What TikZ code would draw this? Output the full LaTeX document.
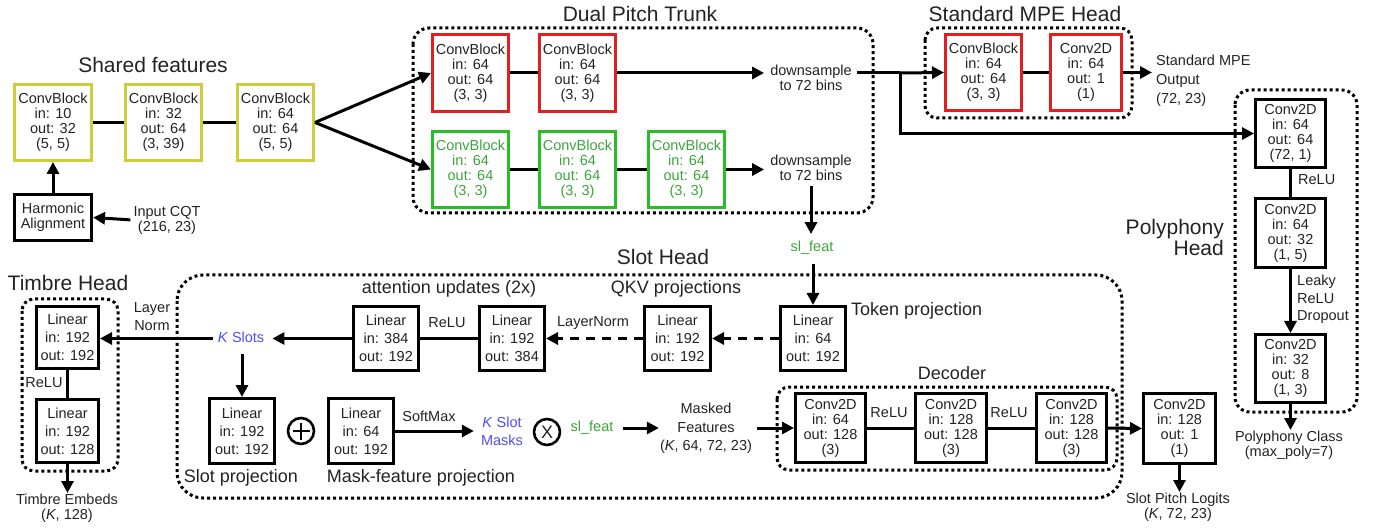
\documentclass[tikz,border=0pt]{standalone}
\usepackage{fontspec}
\setmainfont{Liberation Sans}
\usetikzlibrary{arrows.meta}
\definecolor{yel}{RGB}{206,206,60}
\definecolor{rd}{RGB}{228,30,30}
\definecolor{gr}{RGB}{40,190,40}
\definecolor{grt}{RGB}{60,165,60}
\definecolor{bl}{RGB}{80,80,235}
\definecolor{txt}{RGB}{35,35,35}
\newcommand{\fsA}{\fontsize{14.5}{15}\selectfont}
\newcommand{\fsB}{\fontsize{14.5}{18}\selectfont}
\newcommand{\fsM}{\fontsize{18}{20}\selectfont}
\newcommand{\fsT}{\fontsize{21}{21}\selectfont}
\tikzset{
  box/.style={draw=black, line width=3pt, align=center, inner sep=0pt, text=txt, font=\fsA},
  boxB/.style={box, font=\fsB},
  bx/.style 2 args={minimum width=#1pt, minimum height=#2pt},
  lbl/.style={inner sep=1pt, align=center, text=txt, font=\fsA},
  lblB/.style={lbl, font=\fsB},
  mid/.style={inner sep=1pt, align=center, text=txt, font=\fsM},
  ttl/.style={inner sep=1pt, align=center, text=txt, font=\fsT},
  ln/.style={line width=3pt},
  arr/.style={line width=3pt, -{Triangle[length=12pt,width=12pt]}},
  dsh/.style={arr, dash pattern=on 9pt off 7pt},
  dotbox/.style={line width=3pt, dash pattern=on 3pt off 3pt},
}
\begin{document}
\begin{tikzpicture}[x=1pt,y=-1pt]
\fill[white] (0,0) rectangle (1374,529);
\useasboundingbox (0,0) rectangle (1374,529);

% ---------- Shared features ----------
\node[ttl] (tshared) at (153,65) {Shared features};
\node[box, draw=yel, bx={77}{76}] (sf1) at (53,122.5) {ConvBlock\\in: 10\\out: 32\\(5, 5)};
\node[box, draw=yel, bx={76}{76}] (sf2) at (163.5,122.5) {ConvBlock\\in: 32\\out: 64\\(3, 39)};
\node[box, draw=yel, bx={76}{76}] (sf3) at (275.5,122.5) {ConvBlock\\in: 64\\out: 64\\(5, 5)};
\node[box, bx={77}{46}] (ha) at (53,217.5) {Harmonic\\Alignment};
\node[lbl] (cqt) at (167,220) {Input CQT\\(216, 23)};
\draw[ln] (sf1) -- (sf2);
\draw[ln] (sf2) -- (sf3);
\draw[arr] (ha.north) -- (sf1.south);
\draw[arr, shorten <=2pt] (cqt.west) -- (ha.east);

% ---------- Dual Pitch Trunk ----------
\draw[dotbox, rounded corners=16pt] (413,28) rectangle (873,213);
\node[ttl] (tdual) at (640,14) {Dual Pitch Trunk};
\node[box, draw=rd, bx={76}{77}] (r1) at (470.5,73) {ConvBlock\\in: 64\\out: 64\\(3, 3)};
\node[box, draw=rd, bx={76}{77}] (r2) at (577.5,73) {ConvBlock\\in: 64\\out: 64\\(3, 3)};
\node[box, draw=gr, text=grt, bx={76}{76}] (g1) at (470.5,169.5) {ConvBlock\\in: 64\\out: 64\\(3, 3)};
\node[box, draw=gr, text=grt, bx={76}{76}] (g2) at (577.5,169.5) {ConvBlock\\in: 64\\out: 64\\(3, 3)};
\node[box, draw=gr, text=grt, bx={76}{76}] (g3) at (686.5,169.5) {ConvBlock\\in: 64\\out: 64\\(3, 3)};
\node[lbl] (ds1) at (811,78) {downsample\\to 72 bins};
\node[lbl] (ds2) at (811,168) {downsample\\to 72 bins};
\draw[arr] (sf3.east) -- (r1.west);
\draw[arr] (sf3.east) -- (g1.west);
\draw[ln] (r1) -- (r2);
\draw[arr, shorten >=5pt] (r2.east) -- (r2.east -| ds1.west);
\draw[ln] (g1) -- (g2);
\draw[ln] (g2) -- (g3);
\draw[arr, shorten >=5pt] (g3.east) -- (g3.east -| ds2.west);

% ---------- Standard MPE Head ----------
\draw[dotbox, rounded corners=12pt] (925,28) rectangle (1132,118);
\node[ttl] (tmpe) at (1025,14) {Standard MPE Head};
\node[box, draw=rd, bx={76}{76}] (m1) at (983.5,72.5) {ConvBlock\\in: 64\\out: 64\\(3, 3)};
\node[box, draw=rd, bx={71}{76}] (m2) at (1086,72.5) {Conv2D\\in: 64\\out: 1\\(1)};
\node[inner sep=1pt, align=left, text=txt, font=\fontsize{14.5}{19}\selectfont, anchor=west] (mout) at (1155,81) {Standard MPE\\Output\\(72, 23)};
\coordinate (br) at (900,73);
\draw[ln, shorten <=4pt] (ds1.east |- r2.east) -- (br);
\draw[arr] (br) -- (m1.west);
\draw[ln] (m1) -- (m2);
\draw[arr, shorten >=3pt] (m2.east) -- (m2.east -| mout.west);

% ---------- Polyphony Head ----------
\draw[dotbox, rounded corners=15pt] (1235,90) rectangle (1357,412);
\node[ttl, align=right, anchor=east] (tpoly) at (1225,237.5) {Polyphony\\Head};
\node[box, bx={70}{68}] (p1) at (1290.5,133.5) {Conv2D\\in: 64\\out: 64\\(72, 1)};
\node[box, bx={70}{69}] (p2) at (1290.5,233) {Conv2D\\in: 64\\out: 32\\(1, 5)};
\node[box, bx={70}{68}] (p3) at (1290.5,368.5) {Conv2D\\in: 32\\out: 8\\(1, 3)};
\node[lbl, anchor=west] (relup) at (1297,180) {ReLU};
\node[inner sep=1pt, align=left, text=txt, font=\fontsize{14.5}{17.5}\selectfont, anchor=west] (leaky) at (1296,299.5) {Leaky\\ReLU\\Dropout};
\node[lbl, anchor=north] (pcls) at (1289,430) {Polyphony Class\\(max\_poly=7)};
\draw[arr] (br) |- (p1.west);
\draw[ln] (p1) -- (p2);
\draw[arr] (p2) -- (p3);
\draw[arr] (p3.south) -- (p3.south |- pcls.north);

% ---------- Slot Head ----------
\draw[dotbox, rounded corners=26pt] (177,275) rectangle (1122,498);
\node[ttl] (tslot) at (663,257) {Slot Head};
\node[inner sep=1pt, text=grt, font=\fsA] (slf1) at (812,248) {sl\_feat};
\draw[arr, shorten <=4pt, shorten >=6pt] (ds2.south) -- (ds2.south |- slf1.north);

\node[boxB, bx={65}{64}] (tok) at (813,338.5) {Linear\\in: 64\\out: 192};
\node[mid, anchor=west] (ttok) at (850,311) {Token projection};
\node[boxB, bx={66}{64}] (qkv) at (677.5,338.5) {Linear\\in: 192\\out: 192};
\node[mid] (tqkv) at (676,289) {QKV projections};
\node[boxB, bx={65}{64}] (a2) at (512,338.5) {Linear\\in: 192\\out: 384};
\node[boxB, bx={65}{64}] (a1) at (386,338.5) {Linear\\in: 384\\out: 192};
\node[mid] (tatt) at (449,289) {attention updates (2x)};
\node[lbl] (lnorm) at (593,323) {LayerNorm};
\node[lbl] (relua) at (447,323) {ReLU};
\draw[arr, shorten <=8pt] (tok.north |- slf1.south) -- (tok.north);
\draw[dsh] (tok.west) -- (qkv.east);
\draw[dsh] (qkv.west) -- (a2.east);
\draw[ln] (a2) -- (a1);

\node[inner sep=1pt, text=bl, font=\fsA] (kslots) at (241,337) {\textit{K} Slots};
\draw[arr, shorten >=7pt] (a1.west) -- (a1.west -| kslots.east);

\node[boxB, bx={65}{65}] (sp) at (242,431) {Linear\\in: 192\\out: 192};
\node[mid] (tsp) at (241,478) {Slot projection};
\draw[arr, shorten <=10pt] (sp.north |- kslots.south) -- (sp.north);
\node[circle, draw=black, line width=2.6pt, minimum size=26pt, inner sep=0pt] (plus) at (301,431) {};
\draw[line width=2.2pt] ([xshift=-8.5pt]plus.center) -- ([xshift=8.5pt]plus.center);
\draw[line width=2.2pt] ([yshift=-8.5pt]plus.center) -- ([yshift=8.5pt]plus.center);
\node[boxB, bx={65}{65}] (mf) at (361,431) {Linear\\in: 64\\out: 192};
\node[mid] (tmf) at (421,478) {Mask-feature projection};
\node[lbl] (smax) at (429,416) {SoftMax};
\node[inner sep=1pt, align=center, text=bl, font=\fsB] (kmask) at (502,431) {\textit{K} Slot\\Masks};
\draw[arr, shorten >=6pt] (mf.east) -- (mf.east -| kmask.west);
\node[circle, draw=black, line width=2.6pt, minimum size=26pt, inner sep=0pt, font=\fsM, text=txt] (times) at (547,432) {X};
\node[inner sep=1pt, text=grt, font=\fsA] (slf2) at (592,428) {sl\_feat};
\node[inner sep=1pt, align=center, text=txt, font=\fontsize{14.5}{18.5}\selectfont] (masked) at (706,428.5) {Masked\\Features\\(\textit{K}, 64, 72, 23)};
\draw[arr, shorten <=8pt] (slf2.east) -- (slf2.east -| masked.west);

% ---------- Decoder ----------
\draw[dotbox, rounded corners=12pt] (777,387) rectangle (1117,470);
\node[mid] (tdec) at (952,373) {Decoder};
\node[box, bx={70}{69}] (d1) at (830.5,428) {Conv2D\\in: 64\\out: 128\\(3)};
\node[box, bx={71}{69}] (d2) at (951,428) {Conv2D\\in: 128\\out: 128\\(3)};
\node[box, bx={70}{69}] (d3) at (1071.5,428) {Conv2D\\in: 128\\out: 128\\(3)};
\node[lbl] (relud1) at (889,413) {ReLU};
\node[lbl] (relud2) at (1009,413) {ReLU};
\draw[arr, shorten <=4pt] (masked.east |- d1.west) -- (d1.west);
\draw[ln] (d1) -- (d2);
\draw[ln] (d2) -- (d3);
\node[box, bx={72}{70}] (fin) at (1179.5,428.5) {Conv2D\\in: 128\\out: 1\\(1)};
\draw[arr] (d3.east) -- (fin.west);
\node[lbl, anchor=north] (spl) at (1178,492) {Slot Pitch Logits\\(\textit{K}, 72, 23)};
\draw[arr] (fin.south) -- (fin.south |- spl.north);

% ---------- Timbre Head ----------
\draw[dotbox, rounded corners=12pt] (22,299) rectangle (118,471);
\node[ttl] (ttim) at (68,283) {Timbre Head};
\node[boxB, bx={62}{62}] (t1) at (67.5,337.5) {Linear\\in: 192\\out: 192};
\node[boxB, bx={62}{63}] (t2) at (67.5,431) {Linear\\in: 192\\out: 128};
\node[lbl] (relut) at (44,383) {ReLU};
\node[lblB] (lnt) at (152,317) {Layer\\Norm};
\node[lbl, anchor=north] (temb) at (67,493) {Timbre Embeds\\(\textit{K}, 128)};
\draw[arr, shorten <=4pt] (kslots.west |- a1.west) -- (t1.east |- a1.west);
\draw[ln] (t1) -- (t2);
\draw[arr] (t2.south) -- (t2.south |- temb.north);
\end{tikzpicture}
\end{document}
